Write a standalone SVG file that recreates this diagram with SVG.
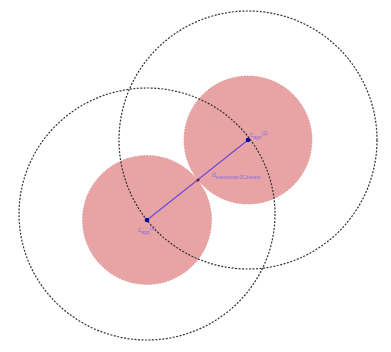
<svg xmlns="http://www.w3.org/2000/svg" width="391" height="352" viewBox="0 0 391 352">
<style>
.big{fill:none;stroke:#333;stroke-width:1.2;stroke-dasharray:2 1.5}
.small{fill:#e8a4a4;stroke:#d48a8a;stroke-width:0.8;stroke-dasharray:1.5 1.5}
.lbl{font-family:"Liberation Sans",Arial,sans-serif;fill:#8a6ae0;font-size:6.5px}
.sub{font-size:5px}
</style>
<rect width="391" height="352" fill="#ffffff"/>
<g id="area1"><circle class="small" cx="147" cy="220" r="64.5"/></g>
<g id="area2"><circle class="small" cx="248" cy="140" r="64"/></g>
<g id="range1"><ellipse class="big" cx="147" cy="214" rx="128" ry="126"/></g>
<g id="range2"><circle class="big" cx="248" cy="140" r="129"/></g>
<g id="connectors"><line x1="147" y1="220" x2="248" y2="140" stroke="#6a4ad8" stroke-width="1.2"/></g>
<g id="mid"><circle cx="198" cy="180" r="1.6" fill="#7a1a1a"/>
<text class="lbl" x="212" y="177">d<tspan class="sub" dy="2">intercenter2Clusters</tspan></text></g>
<g id="c1"><circle cx="147" cy="220" r="2.3" fill="#0a0a9a"/>
<text class="lbl" x="138" y="232">c<tspan class="sub" dy="2">app</tspan><tspan class="sub" dy="-4.5">(1)</tspan></text></g>
<g id="c2"><circle cx="248" cy="140" r="2.3" fill="#0a0a9a"/>
<text class="lbl" x="250" y="137">c<tspan class="sub" dy="2">app</tspan><tspan class="sub" dy="-4.5">(2)</tspan></text></g>
</svg>
